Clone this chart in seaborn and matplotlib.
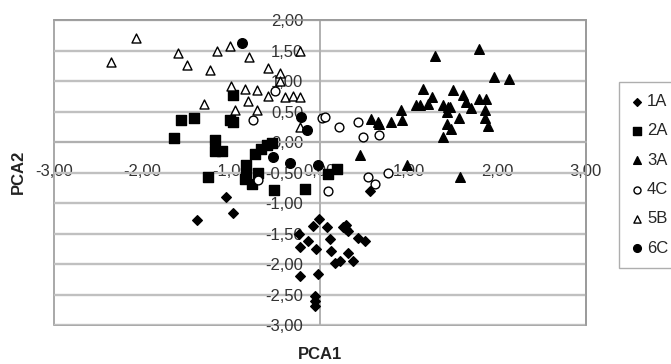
import matplotlib
matplotlib.use('Agg')
import matplotlib.pyplot as plt
from matplotlib.ticker import FuncFormatter, MultipleLocator
from matplotlib.patches import Rectangle
import seaborn as sns
import pandas as pd

# PCA scores, one pair of lists per group
x_1A = [-1.39, -1.06, -0.98, -0.24, -0.22, -0.13, -0.08, -0.01, 0.08, -0.04, 0.11, 0.13, 0.26, 0.30,
        0.32, 0.29, 0.43, 0.51, 0.32, 0.37, 0.23, 0.17, -0.23, -0.02, -0.06, -0.06, -0.06, 0.57]
y_1A = [-1.28, -0.90, -1.17, -1.51, -1.72, -1.62, -1.37, -1.26, -1.39, -1.76, -1.59, -1.79, -1.40, -1.36,
        -1.46, -1.43, -1.57, -1.62, -1.82, -1.95, -1.95, -1.98, -2.20, -2.17, -2.53, -2.61, -2.68, -0.80]

x_2A = [-1.65, -1.57, -1.42, -1.18, -1.18, -1.11, -1.26, -1.01, -0.98, -0.98, -0.73, -0.67, -0.60, -0.54,
        -0.83, -0.83, -0.85, -0.77, -0.70, -0.52, -0.17, 0.09, 0.19]
y_2A = [0.07, 0.36, 0.40, 0.04, -0.14, -0.15, -0.58, 0.36, 0.33, 0.77, -0.19, -0.11, -0.05, -0.02,
        -0.38, -0.50, -0.60, -0.69, -0.50, -0.79, -0.77, -0.52, -0.44]

x_3A = [0.45, 0.58, 0.66, 0.67, 0.80, 0.92, 0.93, 0.98, 1.08, 1.13, 1.16, 1.22, 1.26, 1.30, 1.39, 1.44,
        1.47, 1.43, 1.39, 1.43, 1.48, 1.50, 1.57, 1.58, 1.62, 1.65, 1.71, 1.79, 1.80, 1.87, 1.86, 1.86,
        1.90, 1.97, 2.13]
y_3A = [-0.22, 0.37, 0.33, 0.30, 0.33, 0.52, 0.36, -0.38, 0.61, 0.61, 0.87, 0.63, 0.73, 1.41, 0.61, 0.57,
        0.58, 0.50, 0.09, 0.29, 0.22, 0.85, 0.40, -0.58, 0.77, 0.66, 0.55, 1.53, 0.70, 0.70, 0.52, 0.40,
        0.26, 1.07, 1.03]

x_4C = [-0.75, -0.51, 0.02, 0.06, 0.22, 0.43, 0.49, 0.67, 0.54, 0.62, 0.77, 0.09, -0.70]
y_4C = [0.36, 0.84, 0.39, 0.41, 0.25, 0.33, 0.09, 0.11, -0.58, -0.68, -0.50, -0.80, -0.62]

x_5B = [-2.36, -2.07, -1.60, -1.50, -1.24, -1.16, -1.01, -0.80, -0.58, -0.45, -0.23, -1.00, -0.85, -0.71,
        -0.58, -0.39, -0.30, -0.22, -0.81, -1.31, -0.96, -0.71, -0.23, -0.45]
y_5B = [1.31, 1.71, 1.46, 1.27, 1.18, 1.50, 1.58, 1.40, 1.21, 1.13, 1.49, 0.92, 0.87, 0.85,
        0.75, 0.74, 0.75, 0.74, 0.68, 0.62, 0.52, 0.53, 0.25, 1.00]

x_6C = [-0.88, -0.21, -0.15, -0.53, -0.34, -0.02]
y_6C = [1.63, 0.41, 0.19, -0.25, -0.35, -0.38]

groups = ['1A', '2A', '3A', '4C', '5B', '6C']
xs = [x_1A, x_2A, x_3A, x_4C, x_5B, x_6C]
ys = [y_1A, y_2A, y_3A, y_4C, y_5B, y_6C]

df = pd.concat([pd.DataFrame({'PCA1': x, 'PCA2': y, 'group': g}) for g, x, y in zip(groups, xs, ys)])

markers = {'1A': 'D', '2A': 's', '3A': '^', '4C': 'o', '5B': '^', '6C': 'o'}
faces = {'1A': 'black', '2A': 'black', '3A': 'black', '4C': 'white', '5B': 'white', '6C': 'black'}
sizes = {'1A': 24, '2A': 42, '3A': 48, '4C': 40, '5B': 42, '6C': 48}

sns.set_style('white')
plt.rcParams['font.family'] = ['Liberation Sans', 'DejaVu Sans']

fig = plt.figure(figsize=(6.71, 3.64), dpi=100)
ax = fig.add_axes([0.0805, 0.107, 0.7925, 0.838])

for g in groups:
    sns.scatterplot(data=df[df['group'] == g], x='PCA1', y='PCA2', ax=ax, marker=markers[g],
                    color=faces[g], edgecolor='black', linewidth=1.0, s=sizes[g], label=g, zorder=3)

ax.set_xlim(-3, 3)
ax.set_ylim(-3, 2)
ax.xaxis.set_major_locator(MultipleLocator(1))
ax.yaxis.set_major_locator(MultipleLocator(0.5))
fmt = FuncFormatter(lambda v, p: f'{v:.2f}'.replace('.', ','))
ax.xaxis.set_major_formatter(fmt)
ax.yaxis.set_major_formatter(fmt)

ax.yaxis.grid(True, color='#c0c0c0', linewidth=1.7)
ax.xaxis.grid(False)
ax.set_axisbelow(True)

frame_col = '#9a9a9a'
for side in ['left', 'bottom']:
    ax.spines[side].set_position(('data', 0))
    ax.spines[side].set_color('#b0b0b0')
    ax.spines[side].set_linewidth(1.4)
for side in ['top', 'right']:
    ax.spines[side].set_color(frame_col)
    ax.spines[side].set_linewidth(1.2)
ax.add_patch(Rectangle((0, 0), 1, 1, transform=ax.transAxes, fill=False, edgecolor=frame_col,
                       linewidth=1.2, clip_on=False, zorder=0))

ax.tick_params(axis='x', direction='in', length=4, width=1, pad=16, color='#b0b0b0',
               labelsize=12, labelcolor='#333333')
ax.tick_params(axis='y', direction='out', length=3, width=1, pad=9, color='#b0b0b0',
               labelsize=12, labelcolor='#333333')

ax.set_xlabel('')
ax.set_ylabel('')
fig.text(0.477, 0.025, 'PCA1', ha='center', va='center', fontsize=12, fontweight='bold', color='#222222')
fig.text(0.027, 0.527, 'PCA2', ha='center', va='center', rotation=90, fontsize=12, fontweight='bold',
         color='#222222')

ax.legend(loc='upper left', bbox_to_anchor=(0.922, 0.776), bbox_transform=fig.transFigure,
          frameon=True, fancybox=False, edgecolor=frame_col, fontsize=12, labelspacing=0.86,
          handlelength=0.7, handletextpad=0.25, borderpad=0.75, borderaxespad=0, markerscale=0.8)

plt.savefig('out.png', dpi=100)
plt.close()
